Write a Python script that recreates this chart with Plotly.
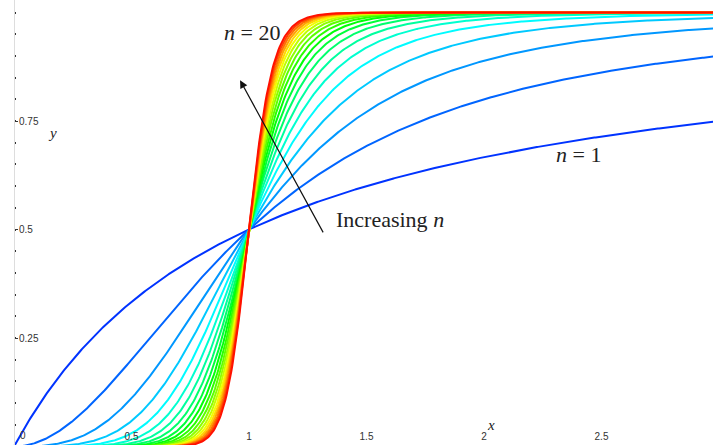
import numpy as np
import plotly.graph_objects as go
import colorsys

# ---- data ----
n_values = list(range(1, 21))          # Hill exponents n = 1 .. 20
x_grid = np.linspace(0, 3, 601)        # sample points of x
x_tick_vals = [0, 0.5, 1, 1.5, 2, 2.5]
x_tick_text = ["0", "0.5", "1", "1.5", "2", "2.5"]
y_tick_vals = [0.25, 0.5, 0.75]
y_tick_text = ["0.25", "0.5", "0.75"]


def hill(x, n):
    return x ** n / (1 + x ** n)


def colour(i, count):
    # blue -> cyan -> green -> yellow -> red
    h0, h1 = 228 / 360, 4 / 360
    h = h0 + (h1 - h0) * i / (count - 1)
    r, g, b = colorsys.hsv_to_rgb(h, 1, 1)
    return f"rgb({int(r*255)},{int(g*255)},{int(b*255)})"


fig = go.Figure()
for i, n in enumerate(n_values):
    fig.add_trace(go.Scatter(
        x=x_grid, y=hill(x_grid, n), mode="lines",
        line=dict(color=colour(i, len(n_values)), width=2),
        showlegend=False, hoverinfo="skip"))

W, H = 713, 445
px0, pxu = 14, 235.0      # pixel of x=0, pixels per unit
py0, pyu = 446.5, 434.0   # pixel of y=0, pixels per unit
tick_font = dict(family="Liberation Sans", size=10, color="#333")

serif = "Liberation Serif"
ann = [
    dict(x=1.013, y=0.955, text="<i>n</i> = 20", size=22),
    dict(x=1.60, y=0.524, text="Increasing <i>n</i>", size=22),
    dict(x=2.40, y=0.672, text="<i>n</i> = 1", size=22),
    dict(x=2.03, y=0.050, text="<i>x</i>", size=15),
    dict(x=0.162, y=0.722, text="<i>y</i>", size=15),
]
annotations = [dict(x=a["x"], y=a["y"], xref="x", yref="y", text=a["text"],
                    showarrow=False, font=dict(family=serif, size=a["size"], color="#222"))
               for a in ann]
annotations.append(dict(x=0.962, y=0.844, ax=1.319, ay=0.490, xref="x", yref="y",
                        axref="x", ayref="y", text="", showarrow=True,
                        arrowhead=2, arrowsize=1.3, arrowwidth=1.2, arrowcolor="#111"))
# the x = 0 tick label sits just right of the y axis line
annotations.append(dict(x=x_tick_vals[0], y=0, xref="x", yref="paper", text=x_tick_text[0],
                        showarrow=False, xanchor="center", yanchor="bottom",
                        xshift=9, yshift=2, font=tick_font))

fig.update_layout(
    width=W, height=H, margin=dict(l=0, r=0, t=0, b=0, pad=0, autoexpand=False),
    paper_bgcolor="white", plot_bgcolor="white",
    annotations=annotations,
    xaxis=dict(range=[-px0 / pxu, (W - px0) / pxu], showgrid=False, zeroline=False,
               automargin=False, showline=False, ticks="",
               tickvals=x_tick_vals[1:], ticktext=x_tick_text[1:],
               ticklabelposition="inside", tickfont=tick_font),
    yaxis=dict(range=[(py0 - H) / pyu, py0 / pyu], showgrid=False, zeroline=False, automargin=False,
               anchor="free", position=px0 / W, showline=True, linecolor="#dddddd", linewidth=1,
               ticks="inside", ticklen=3, tickcolor="#333", tickvals=y_tick_vals, ticktext=y_tick_text,
               ticklabelposition="inside", tickfont=tick_font,
               minor=dict(ticks="inside", ticklen=1, tickwidth=1.5, tickcolor="#333", dtick=0.05, tick0=0)),
)

fig.write_html("out.html", config={"displayModeBar": False},
               post_script="document.body.style.margin='0';document.body.style.overflow='hidden';")
